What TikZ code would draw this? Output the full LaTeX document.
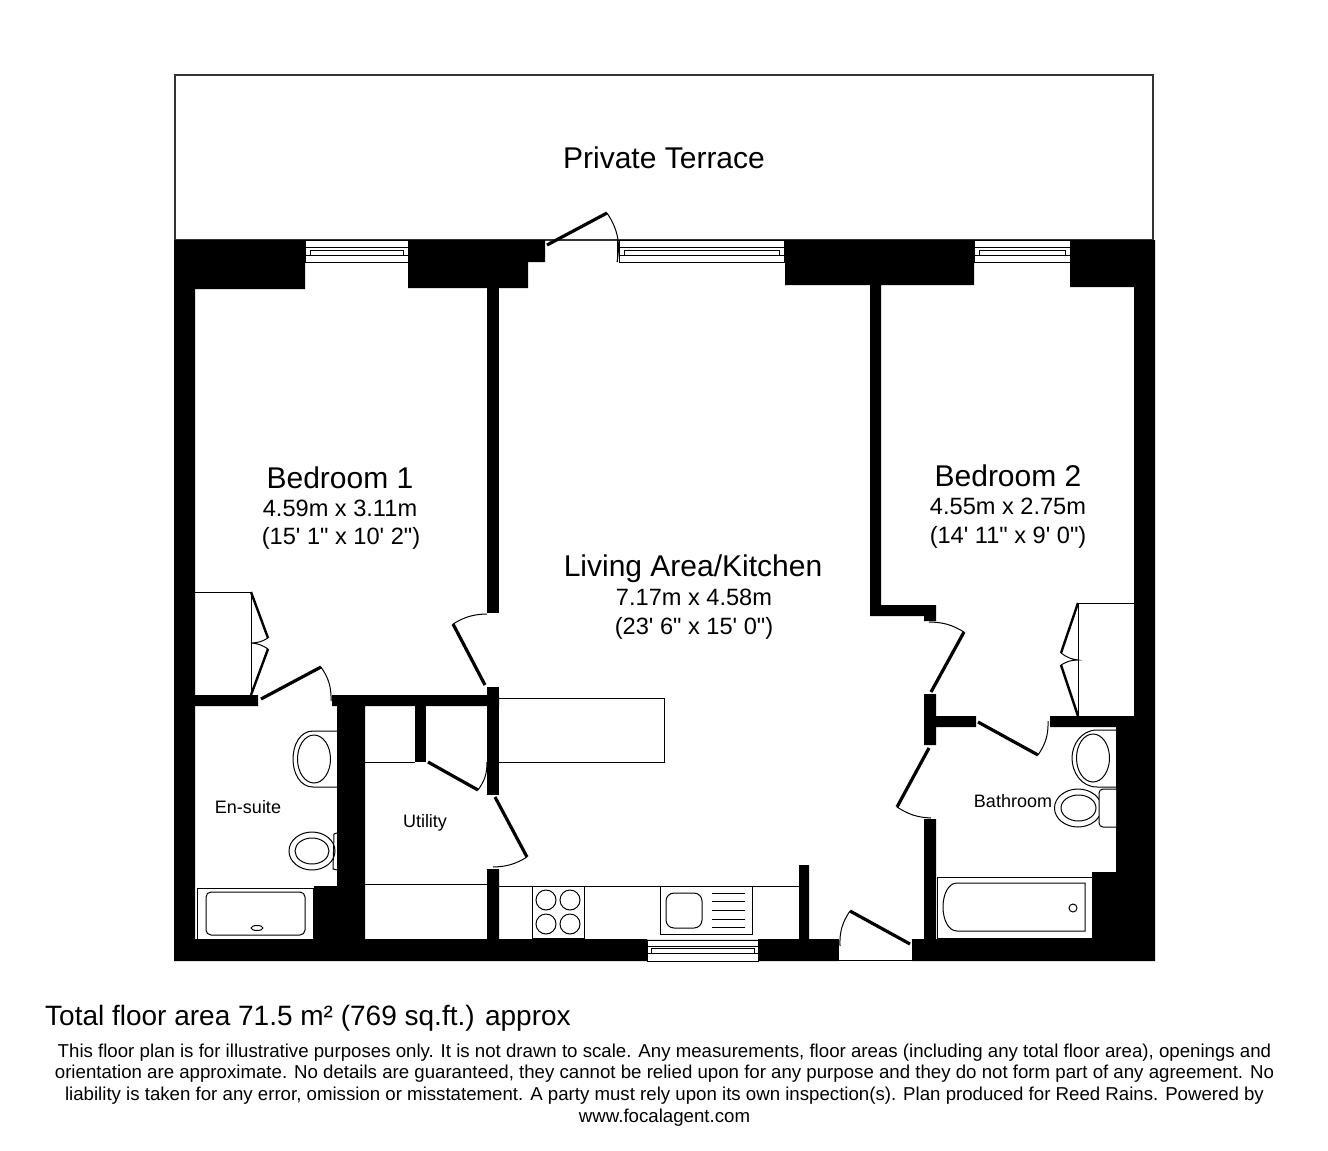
\documentclass[tikz,border=0pt]{standalone}
\usepackage{fontspec}
\newfontfamily\planfont{Liberation Sans}
\tikzset{
    wallfill/.style={fill=black, draw=none},
    leaf/.style={line width=3.2pt, black},
    swing/.style={line width=1pt, black},
    fixture/.style={line width=1pt, black},
    outline/.style={line width=1.1pt, black!80},
    roomname/.style={font=\planfont\fontsize{30}{34}\selectfont},
    roomsize/.style={font=\planfont\fontsize{23.6}{27}\selectfont},
    smallname/.style={font=\planfont\fontsize{18}{21}\selectfont}
}
\begin{document}
\begin{tikzpicture}[x=1pt, y=-1pt]
\useasboundingbox (0,0) rectangle (1328,1151);
% Draw terrace
\draw[outline] (175,240) -- (175,75) -- (1153,75) -- (1153,240) -- cycle;
\node[roomname] (terrace) at (664,158) {Private Terrace};
% Draw outer walls
\fill[wallfill] (174,240) -- (305,240) -- (305,289) -- (195,289) -- (195,695) -- (258,695) -- (258,706)
    -- (195,706) -- (195,939) -- (314,939) -- (314,886) -- (337,886) -- (337,706) -- (332,706) -- (332,695)
    -- (499,695) -- (499,706) -- (365,706) -- (365,939) -- (487,939) -- (487,869) -- (499,869) -- (499,939)
    -- (799,939) -- (799,865) -- (809,865) -- (809,939) -- (838,939) -- (838,961) -- (758,961) -- (758,939)
    -- (647,939) -- (647,961) -- (174,961) -- cycle;
\fill[wallfill] (408,240) -- (545,240) -- (545,262) -- (528,262) -- (528,288) -- (408,288) -- cycle;
\fill[wallfill] (487,287) rectangle (499,613);
\fill[wallfill] (487,687) rectangle (499,795);
\fill[wallfill] (785,240) -- (974,240) -- (974,285) -- (881,285) -- (881,605) -- (936,605) -- (936,621)
    -- (924,621) -- (924,616) -- (870,616) -- (870,285) -- (785,285) -- cycle;
\fill[wallfill] (1070,240) -- (1155,240) -- (1155,961) -- (912,961) -- (912,939) -- (924,939) -- (924,819)
    -- (936,819) -- (936,939) -- (1092,939) -- (1092,872) -- (1116,872) -- (1116,727) -- (1050,727)
    -- (1050,716) -- (1134,716) -- (1134,287) -- (1070,287) -- cycle;
\fill[wallfill] (924,694) -- (936,694) -- (936,716) -- (976,716) -- (976,727) -- (936,727) -- (936,745)
    -- (924,745) -- cycle;
\fill[wallfill] (415,706) rectangle (426,762);
% Draw windows
\foreach \xa/\xb in {305/408,619/784,974/1070} {
    \draw[fixture, fill=white] (\xa,240) rectangle (\xb,262);
    \draw[fixture] (\xa,247) -- (\xb,247) (\xa,255) -- (\xb,255);
    \draw[fixture] (\xa+5,250) rectangle (\xb-5,255);
}
\draw[fixture, fill=white] (647,940) rectangle (758,961);
\draw[fixture] (647,946) -- (758,946) (647,953) -- (758,953);
\draw[fixture] (651,948) rectangle (754,953);
% Draw doors
\draw[leaf] (547,245) -- (607,213);
\draw[swing] (607,213) to[bend left=22] (617,262);
\draw[swing] (617,240) -- (617,262);
\draw[leaf] (453,624) -- (485,685);
\draw[swing] (487,614) to[bend right=15] (453,624);
\draw[leaf] (261,699) -- (321,667);
\draw[swing] (321,667) to[bend left=18] (331,701);
\draw[leaf] (428,762) -- (478,790);
\draw[swing] (478,790) to[bend right=18] (487,762);
\draw[leaf] (495,797) -- (527,857);
\draw[swing] (527,857) to[bend left=15] (493,867);
\draw[leaf] (910,944) -- (850,911);
\draw[swing] (850,911) to[bend right=18] (840,946);
\draw[swing] (838,939) -- (838,960) -- (912,960);
\draw[leaf] (964,632) -- (931,692);
\draw[swing] (929,622) to[bend left=15] (964,632);
\draw[leaf] (978,722) -- (1038,755);
\draw[swing] (1038,755) to[bend right=18] (1048,721);
\draw[leaf] (929,748) -- (897,807);
\draw[swing] (897,807) to[bend right=15] (931,818);
% Draw cupboards
\draw[fixture] (195,592) -- (251,592) -- (251,695);
\draw[leaf, line width=2.4pt] (251,592) -- (268,638) (268,649) -- (251,695);
\draw[swing] (268,638) to[bend left=15] (251,643) to[bend left=15] (268,649);
\draw[fixture] (1134,603) -- (1078,603) -- (1078,716);
\draw[leaf, line width=2.4pt] (1078,603) -- (1061,653) (1061,665) -- (1078,716);
\draw[swing] (1061,653) to[bend right=15] (1078,660) to[bend right=15] (1061,665);
% Draw kitchen and utility
\draw[fixture] (499,698) -- (664,698) -- (664,762) -- (499,762);
\draw[fixture] (365,762) -- (415,762);
\draw[fixture] (365,884) -- (487,884);
\draw[fixture] (499,886) -- (799,886);
\draw[fixture] (532,886) rectangle (584,938);
\foreach \x in {546,570}
    \foreach \y in {900,924}
        \draw[fixture] (\x,\y) circle (10);
\draw[fixture] (660,886) rectangle (752,934);
\draw[fixture, rounded corners=8pt] (666,893) rectangle (702,928);
\foreach \y in {893,901,910,919,927}
    \draw[fixture] (712,\y) -- (745,\y);
% Draw en-suite
\draw[fixture] (337,731) -- (313,731) .. controls (300,731) and (293,745) .. (293,759)
    .. controls (293,773) and (300,787) .. (313,787) -- (337,787);
\draw[fixture] (314,759) ellipse (16.5 and 24);
\draw[fixture] (312,851) ellipse (23 and 19);
\draw[fixture] (312,851) ellipse (17 and 13);
\draw[fixture] (337,833) -- (334,834) -- (333,869) -- (337,870);
\draw[fixture] (197,888) rectangle (313,939);
\draw[fixture, rounded corners=5pt] (206,892) rectangle (305,935);
\draw[fixture] (257,928) ellipse (6 and 2.5);
% Draw bathroom
\draw[fixture] (1116,730) -- (1097,730) .. controls (1081,730) and (1072,745) .. (1072,758)
    .. controls (1072,772) and (1081,787) .. (1097,787) -- (1116,787);
\draw[fixture] (1093,758) ellipse (16.5 and 24);
\draw[fixture] (1078,808) ellipse (23.5 and 19);
\draw[fixture] (1078.5,808) ellipse (17.5 and 13);
\draw[fixture, fill=white, rounded corners=4pt] (1116,789) -- (1099,789) -- (1099,827) -- (1116,827);
\draw[fixture] (937,877) rectangle (1092,938);
\draw[fixture] (1085,883) -- (957,883) .. controls (948,883) and (943,895) .. (943,907)
    .. controls (943,919) and (948,931) .. (957,931) -- (1085,931) -- cycle;
\draw[fixture] (1073,908) circle (4);
% Draw labels
\node[roomname] (bedroomone) at (340,478) {Bedroom 1};
\node[roomsize] (bedroomonem) at (340,508) {4.59m x 3.11m};
\node[roomsize] (bedroomoneft) at (341,538) {(15' 1" x 10' 2")};
\node[roomname] (bedroomtwo) at (1008,476) {Bedroom 2};
\node[roomsize] (bedroomtwom) at (1008,506) {4.55m x 2.75m};
\node[roomsize] (bedroomtwoft) at (1008,537) {(14' 11" x 9' 0")};
\node[roomname] (living) at (693,569) {Living Area/Kitchen};
\node[roomsize] (livingm) at (694,597) {7.17m x 4.58m};
\node[roomsize] (livingft) at (694,628) {(23' 6" x 15' 0")};
\node[smallname] (ensuite) at (248,807) {En-suite};
\node[smallname] (utility) at (425,823) {Utility};
\node[smallname] (bathroom) at (1013,801) {Bathroom};
\node[anchor=west, inner sep=0pt, font=\planfont\fontsize{28}{32}\selectfont] (total) at (45,1018) {Total floor area 71.5 m² (769 sq.ft.) approx};
\node[align=center, font=\planfont\fontsize{18.66}{21.7}\selectfont] (disclaimer) at (664.5,1085) {This floor plan is for illustrative purposes only. It is not drawn to scale. Any measurements, floor areas (including any total floor area), openings and\\
orientation are approximate. No details are guaranteed, they cannot be relied upon for any purpose and they do not form part of any agreement. No\\
liability is taken for any error, omission or misstatement. A party must rely upon its own inspection(s). Plan produced for Reed Rains. Powered by\\
www.focalagent.com};
\end{tikzpicture}
\end{document}
